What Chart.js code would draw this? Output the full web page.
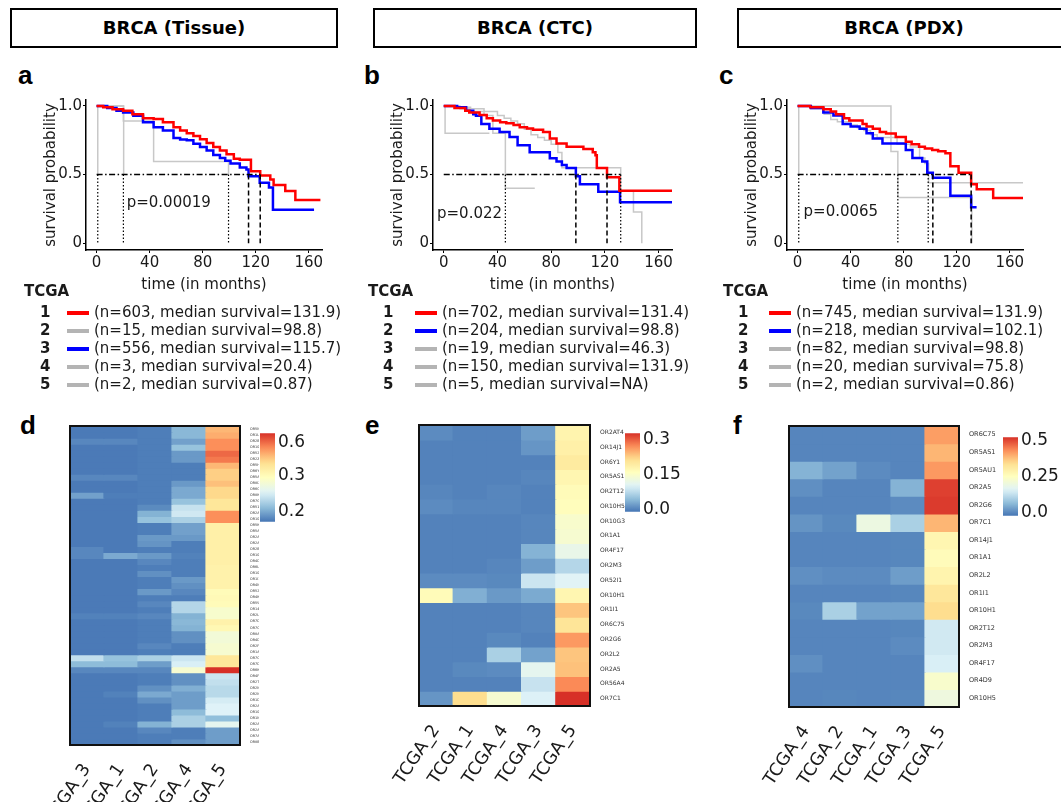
<!DOCTYPE html>
<html>
<head>
<meta charset="utf-8">
<script src="https://cdn.jsdelivr.net/npm/chart.js@4.4.1/dist/chart.umd.min.js"></script>
<style>
  body { margin: 0; width: 1061px; height: 802px; background: #fff; position: relative; overflow: hidden; font-family: 'DejaVu Sans', sans-serif; color: #1a1a1a; }
  canvas { position: absolute; }
  .header { position: absolute; top: 8px; height: 36px; border: 2px solid #000; font: bold 18px 'DejaVu Sans', sans-serif; text-align: center; line-height: 36px; color: #000; }
  .letter { position: absolute; font: bold 26px 'Liberation Sans', Arial, sans-serif; color: #000; }
  .leg { position: absolute; font-size: 15px; line-height: 18px; white-space: nowrap; }
  .leg b { font-weight: bold; }
  .sw { position: absolute; height: 4px; width: 22px; }
</style>
</head>
<body>
<div class="header" style="left:10px;width:324px">BRCA (Tissue)</div>
<div class="header" style="left:373px;width:320px">BRCA (CTC)</div>
<div class="header" style="left:737px;width:330px">BRCA (PDX)</div>

<div class="letter" style="left:18px;top:60px">a</div>
<div class="letter" style="left:364px;top:60px">b</div>
<div class="letter" style="left:719px;top:60px">c</div>
<div class="letter" style="left:20px;top:410px">d</div>
<div class="letter" style="left:365px;top:410px">e</div>
<div class="letter" style="left:733px;top:410px">f</div>

<canvas id="kmA" width="290" height="205" style="left:40px;top:90px"></canvas>
<canvas id="kmB" width="293" height="205" style="left:387px;top:90px"></canvas>
<canvas id="kmC" width="290" height="205" style="left:741px;top:90px"></canvas>

<canvas id="heatD" width="239" height="386" style="left:20px;top:416px"></canvas>
<canvas id="barD" width="60" height="115" style="left:260px;top:420px"></canvas>
<canvas id="heatE" width="260" height="387" style="left:365px;top:415px"></canvas>
<canvas id="barE" width="60" height="105" style="left:625px;top:420px"></canvas>
<canvas id="heatF" width="265" height="386" style="left:735px;top:416px"></canvas>
<canvas id="barF" width="58" height="105" style="left:1003px;top:424px"></canvas>

<script>
// ---------- Kaplan-Meier curves: [months, survival probability] step points ----------
const kmTicksX = [0, 40, 80, 120, 160];
const kmTicksY = [0, 0.5, 1];
const kmTickLabelsY = ['0', '0.5', '1.0'];
const groups = ['1', '2', '3', '4', '5'];

// a: BRCA tissue
const aGroup1 = [[0,1],[5,0.99],[12,0.975],[20,0.964],[27,0.94],[35,0.91],[43,0.905],[50,0.88],[58,0.845],[63,0.82],[68,0.80],[73,0.78],[78,0.757],[83,0.73],[88,0.70],[93,0.675],[98,0.648],[103.5,0.614],[108,0.607],[116.4,0.524],[123.4,0.493],[131,0.464],[133.5,0.424],[142.3,0.38],[149.9,0.314],[168.8,0.314]];
const aGroup2 = [[0,1],[20.2,0.89],[43,0.595],[99.5,0.5]];
const aGroup3 = [[0,1],[8,0.985],[15,0.965],[20,0.952],[27.7,0.929],[35,0.88],[43,0.845],[50,0.82],[58,0.767],[63,0.755],[68,0.75],[73,0.725],[78,0.70],[83,0.675],[88,0.643],[93,0.62],[97,0.60],[101,0.58],[108,0.552],[113,0.536],[114.6,0.488],[123,0.44],[130,0.405],[133,0.243],[164,0.243]];
const aGroup4 = [[0,1],[20.4,0.5]];
const aGroup5 = [[0,1],[0.87,0.5]];
const aMedianEnd = 123.4;
const aMedianDash = [114.6, 123.4];
const aMedianDot = [0.87, 20.2, 99.5];
const aLegend = ['(n=603, median survival=131.9)', '(n=15, median survival=98.8)', '(n=556, median survival=115.7)', '(n=3, median survival=20.4)', '(n=2, median survival=0.87)'];
const aColors = ['red', 'grey', 'blue', 'grey', 'grey'];

// b: BRCA CTC
const bGroup1 = [[0,1],[8,0.985],[16,0.964],[19,0.952],[26.7,0.933],[32,0.91],[36.6,0.893],[42,0.88],[46.6,0.874],[52,0.86],[56.6,0.845],[62,0.835],[66.5,0.826],[74,0.81],[79,0.762],[84,0.726],[91.5,0.702],[104,0.686],[111,0.662],[113,0.64],[114,0.548],[121.6,0.481],[130.8,0.381],[170,0.381]];
const bGroup2 = [[0,1],[10,0.99],[16.7,0.964],[22,0.94],[24,0.929],[28,0.869],[34,0.833],[41.6,0.81],[49,0.774],[55,0.714],[64,0.662],[79,0.619],[84,0.595],[88,0.57],[91.5,0.548],[98.4,0.488],[101.4,0.429],[115.1,0.374],[131.3,0.298],[170,0.298]];
const bGroup3 = [[0,1],[12,0.98],[20,0.96],[30,0.93],[36.6,0.8],[45.9,0.4],[67.8,0.4]];
const bGroup4 = [[0,1],[10,0.99],[20,0.98],[30,0.96],[40,0.93],[45,0.91],[50,0.89],[55,0.87],[60,0.83],[65,0.79],[70,0.77],[75,0.75],[80,0.72],[85,0.66],[88,0.55],[131.8,0.38],[141.3,0.226],[147.5,0]];
const bGroup5 = [[0,1],[1,0.8],[34,0.8]];
const bMedianEnd = 131.8;
const bMedianDash = [98.4, 121.6];
const bMedianDot = [45.9, 131.8];
const bLegend = ['(n=702, median survival=131.4)', '(n=204, median survival=98.8)', '(n=19, median survival=46.3)', '(n=150, median survival=131.9)', '(n=5, median survival=NA)'];
const bColors = ['red', 'blue', 'grey', 'grey', 'grey'];

// c: BRCA PDX
const cGroup1 = [[0,1],[9.5,0.99],[19.4,0.976],[25,0.96],[29,0.94],[35,0.91],[39,0.893],[49,0.869],[52,0.85],[56.7,0.833],[62,0.81],[66.7,0.798],[74,0.774],[81.6,0.738],[86,0.72],[91.6,0.702],[96,0.69],[101.5,0.679],[106,0.67],[111.5,0.655],[115.2,0.56],[121.4,0.512],[130.9,0.429],[135.1,0.393],[147.5,0.329],[170,0.329]];
const cGroup2 = [[0,1],[10,0.985],[19.4,0.952],[27,0.93],[34,0.869],[40,0.85],[46.8,0.833],[52,0.8],[56.7,0.762],[64,0.726],[81.6,0.679],[86.6,0.62],[94,0.595],[97.8,0.512],[102,0.476],[115.2,0.345],[130.9,0.262],[135,0.262]];
const cGroup3 = [[0,1],[10,0.98],[20,0.94],[25,0.9],[30,0.885],[40,0.86],[45,0.84],[50,0.82],[55,0.79],[60,0.77],[75,0.72],[85,0.70],[92,0.62],[96,0.58],[98.8,0.44],[170,0.44]];
const cGroup4 = [[0,1],[70.4,0.667],[75.6,0.333],[131.4,0]];
const cGroup5 = [[0,1],[0.86,0.5]];
const cMedianEnd = 130.9;
const cMedianDash = [102, 130.9];
const cMedianDot = [0.86, 75.6, 98.5];
const cLegend = ['(n=745, median survival=131.9)', '(n=218, median survival=102.1)', '(n=82, median survival=98.8)', '(n=20, median survival=75.8)', '(n=2, median survival=0.86)'];
const cColors = ['red', 'blue', 'grey', 'grey', 'grey'];

const pTexts = ['p=0.00019', 'p=0.022', 'p=0.0065'];
const pSpots = [[22.7, 0.29], [-5, 0.214], [4.5, 0.226]];

// ---------- Heatmaps ----------
const dCols = ['TCGA_3', 'TCGA_1', 'TCGA_2', 'TCGA_4', 'TCGA_5'];
const dGenes = ['OR5M4','OR1L8','OR2B11','OR10R2','OR52K2','OR2Z1','OR5H14','OR6Y1','OR5AL1','OR8I2','OR6C75','OR8K1','OR7G2','OR51M1','OR2A5','OR10G2','OR5K2','OR5AS1','OR2AG2','OR2AT4','OR2B6','OR10H1','OR4D1','OR6L8','OR10G3','OR1I1','OR4M2','OR52K1','OR4K17','OR5W2','OR14J1','OR2L2','OR7D4','OR7C2','OR8A1','OR4D9','OR2F1','OR1A1','OR7C1','OR7D2','OR6K3','OR4F17','OR2T12','OR2M3','OR2M4','OR1D2','OR2A12','OR10H5','OR1M1','OR2A4','OR2AG1','OR7A17','OR8B8'];
const dValues = [
  [0.176,0.176,0.178,0.210,0.484],[0.176,0.176,0.178,0.210,0.500],[0.183,0.183,0.178,0.197,0.548],
  [0.176,0.176,0.178,0.217,0.548],[0.176,0.176,0.178,0.193,0.604],[0.176,0.176,0.178,0.193,0.580],
  [0.176,0.176,0.178,0.178,0.484],[0.176,0.176,0.178,0.178,0.444],[0.183,0.183,0.178,0.178,0.444],
  [0.176,0.176,0.178,0.193,0.468],[0.176,0.176,0.178,0.202,0.428],[0.197,0.178,0.178,0.202,0.428],
  [0.176,0.176,0.178,0.217,0.388],[0.176,0.176,0.185,0.241,0.388],[0.176,0.176,0.207,0.246,0.548],
  [0.176,0.176,0.217,0.227,0.548],[0.176,0.176,0.178,0.197,0.348],[0.176,0.176,0.178,0.197,0.348],
  [0.176,0.176,0.193,0.193,0.348],[0.176,0.176,0.190,0.178,0.348],[0.183,0.176,0.178,0.178,0.348],
  [0.183,0.202,0.193,0.180,0.348],[0.176,0.176,0.183,0.178,0.348],[0.176,0.176,0.178,0.178,0.340],
  [0.176,0.176,0.188,0.178,0.340],[0.176,0.176,0.178,0.193,0.340],[0.176,0.176,0.178,0.188,0.340],
  [0.176,0.176,0.193,0.183,0.300],[0.176,0.176,0.178,0.178,0.308],[0.176,0.176,0.183,0.232,0.300],
  [0.176,0.176,0.178,0.232,0.285],[0.180,0.180,0.183,0.207,0.285],[0.176,0.176,0.178,0.210,0.340],
  [0.176,0.176,0.178,0.207,0.316],[0.176,0.176,0.178,0.188,0.278],[0.176,0.176,0.178,0.188,0.278],
  [0.176,0.176,0.183,0.178,0.283],[0.176,0.176,0.178,0.178,0.283],[0.239,0.217,0.227,0.244,0.388],
  [0.212,0.212,0.195,0.251,0.388],[0.183,0.183,0.183,0.283,0.684],[0.176,0.176,0.178,0.188,0.244],
  [0.176,0.176,0.178,0.188,0.239],[0.176,0.176,0.188,0.205,0.234],[0.176,0.180,0.202,0.195,0.234],
  [0.176,0.176,0.188,0.195,0.249],[0.176,0.176,0.178,0.195,0.254],[0.176,0.176,0.178,0.212,0.254],
  [0.176,0.176,0.178,0.227,0.214],[0.176,0.180,0.207,0.227,0.261],[0.176,0.176,0.183,0.178,0.195],
  [0.176,0.176,0.178,0.178,0.195],[0.176,0.176,0.178,0.188,0.195]
];
const dBreaks = [0.173, 0.2, 0.3, 0.6, 0.684];
const dBreakPos = [0, 0.11, 0.52, 0.895, 1];
const dBarTicks = [0.2, 0.3, 0.6];
const dBarLabels = ['0.2', '0.3', '0.6'];

const eCols = ['TCGA_2', 'TCGA_1', 'TCGA_4', 'TCGA_3', 'TCGA_5'];
const eGenes = ['OR2AT4','OR14J1','OR6Y1','OR5AS1','OR2T12','OR10H5','OR10G3','OR1A1','OR4F17','OR2M3','OR52I1','OR10H1','OR1I1','OR6C75','OR2G6','OR2L2','OR2A5','OR56A4','OR7C1'];
const eValues = [
  [0.007,0.0,0.0,0.020,0.178],[0.0,0.0,0.0,0.014,0.185],[0.0,0.0,0.0,0.0,0.195],
  [0.0,0.0,0.0,0.003,0.175],[0.003,0.0,0.003,0.0,0.165],[0.007,0.003,0.003,0.0,0.161],
  [0.0,0.0,0.0,0.003,0.145],[0.0,0.0,0.0,0.003,0.141],[0.0,0.0,0.0,0.037,0.118],
  [0.0,0.0,0.003,0.020,0.071],[0.007,0.007,0.005,0.087,0.104],[0.165,0.034,0.017,0.030,0.175],
  [0.0,0.0,0.0,0.003,0.232],[0.0,0.0,0.0,0.003,0.205],[0.0,0.0,0.005,0.0,0.262],
  [0.0,0.0,0.064,0.024,0.232],[0.0,0.005,0.007,0.111,0.235],[0.0,0.0,0.0,0.084,0.272],
  [0.014,0.215,0.141,0.100,0.326]
];
const eBreaks = [-0.01, 0.326];
const eBreakPos = [0, 1];
const eBarTicks = [0, 0.15, 0.3];
const eBarLabels = ['0.0', '0.15', '0.3'];

const fCols = ['TCGA_4', 'TCGA_2', 'TCGA_1', 'TCGA_3', 'TCGA_5'];
const fGenes = ['OR6C75','OR5AS1','OR5AU1','OR2A5','OR2G6','OR7C1','OR14J1','OR1A1','OR2L2','OR1I1','OR10H1','OR2T12','OR2M3','OR4F17','OR4D9','OR10H5'];
const fValues = [
  [0,0,0,0,0.416],[0,0,0,0,0.389],[0.056,0.035,0.007,0,0.421],[0.012,0,0,0.056,0.509],
  [0,0,0,0.007,0.514],[0.018,0.004,0.198,0.100,0.389],[0,0,0,0.002,0.280],[0,0,0,0.002,0.263],
  [0.012,0.007,0.007,0.029,0.285],[0,0,0,0.002,0.323],[0.004,0.100,0.035,0.035,0.345],[0,0,0,0.002,0.144],
  [0,0,0,0.007,0.144],[0.012,0,0,0,0.154],[0,0,0,0,0.231],[0,0.002,0,0.002,0.203]
];
const fBreaks = [-0.02, 0.525];
const fBreakPos = [0, 1];
const fBarTicks = [0, 0.25, 0.5];
const fBarLabels = ['0.0', '0.25', '0.5'];

// ---------- styling ----------
const lineColors = { red: '#ff0000', blue: '#0000ff', grey: '#c8c8c8' };
const swatchColors = { red: '#ff0000', blue: '#0000ff', grey: '#b4b4b4' };
const palette = ['#4575B4', '#91BFDB', '#E0F3F8', '#FFFFBF', '#FEE090', '#FC8D59', '#D73027'];
const textColor = '#1a1a1a';
const axisFont = { family: 'DejaVu Sans', size: 15 };

function hexRgb(h) {
  return [1, 3, 5].map(i => parseInt(h.substr(i, 2), 16));
}

function paletteAt(t) {
  t = Math.max(0, Math.min(1, t));
  const f = t * (palette.length - 1);
  const i = Math.min(palette.length - 2, Math.floor(f));
  const a = hexRgb(palette[i]), b = hexRgb(palette[i + 1]);
  const k = f - i;
  const c = a.map((v, j) => Math.round(v + (b[j] - v) * k));
  return `rgb(${c[0]},${c[1]},${c[2]})`;
}

function toPos(v, breaks, pos) {
  if (v <= breaks[0]) return pos[0];
  for (let i = 1; i < breaks.length; i++) {
    if (v <= breaks[i]) {
      const k = (v - breaks[i - 1]) / (breaks[i] - breaks[i - 1]);
      return pos[i - 1] + k * (pos[i] - pos[i - 1]);
    }
  }
  return pos[pos.length - 1];
}

// p-value label at data coordinates
const pLabel = {
  id: 'pLabel',
  afterDatasetsDraw(chart, args, opts) {
    const { ctx, scales: { x, y } } = chart;
    ctx.save();
    ctx.font = '15px "DejaVu Sans"';
    ctx.fillStyle = textColor;
    ctx.textBaseline = 'middle';
    ctx.fillText(opts.text, x.getPixelForValue(opts.x), y.getPixelForValue(opts.y));
    ctx.restore();
  }
};

// black frame around heatmap
const frame = {
  id: 'frame',
  afterDatasetsDraw(chart) {
    const { ctx, chartArea: a } = chart;
    ctx.save();
    ctx.strokeStyle = '#111';
    ctx.lineWidth = 2;
    ctx.strokeRect(a.left, a.top, a.right - a.left, a.bottom - a.top);
    ctx.restore();
  }
};

function kmChart(id, curves, colors, medianEnd, medianDash, medianDot, pText, pSpot) {
  // bottom-to-top drawing order: grey, blue, red, then the median guides
  const layers = [];
  const order = ['grey', 'blue', 'red'];
  order.forEach(col => {
    curves.forEach((c, i) => {
      if (colors[i] !== col) return;
      layers.push({
        data: c.map(p => ({ x: p[0], y: p[1] })),
        borderColor: lineColors[col],
        borderWidth: col === 'grey' ? 1.5 : 2.5,
        stepped: 'before'
      });
    });
  });
  layers.push({
    data: [{ x: 0, y: 0.5 }, { x: medianEnd, y: 0.5 }],
    borderColor: '#000', borderWidth: 1.5, borderDash: [6, 2.5, 1.5, 2.5]
  });
  medianDash.forEach(m => layers.push({
    data: [{ x: m, y: 0.5 }, { x: m, y: 0 }],
    borderColor: '#000', borderWidth: 1.5, borderDash: [5, 3]
  }));
  medianDot.forEach(m => layers.push({
    data: [{ x: m, y: 0.5 }, { x: m, y: 0 }],
    borderColor: '#000', borderWidth: 1.2, borderDash: [1.5, 2]
  }));
  const datasets = layers.reverse().map(d => Object.assign({ pointRadius: 0, fill: false, tension: 0 }, d));

  return new Chart(document.getElementById(id), {
    type: 'line',
    data: { datasets },
    plugins: [pLabel],
    options: {
      responsive: false,
      animation: false,
      layout: { padding: { top: 7, right: 8 } },
      plugins: {
        legend: { display: false },
        tooltip: { enabled: false },
        pLabel: { text: pText, x: pSpot[0], y: pSpot[1] }
      },
      scales: {
        x: {
          type: 'linear', min: -8, max: 170,
          afterBuildTicks: s => { s.ticks = kmTicksX.map(v => ({ value: v })); },
          afterFit: s => { s.height = 45; },
          ticks: { font: axisFont, color: textColor, padding: 1 },
          grid: { drawOnChartArea: false, tickLength: 3, color: '#000' },
          border: { color: '#000', width: 1.5 },
          title: { display: true, text: 'time (in months)', font: axisFont, color: textColor, padding: { top: 0, bottom: 1 } }
        },
        y: {
          type: 'linear', min: -0.05, max: 1.043,
          afterBuildTicks: s => { s.ticks = kmTicksY.map(v => ({ value: v })); },
          afterFit: s => { s.width = 46; },
          ticks: { font: axisFont, color: textColor, padding: 1, callback: (v, i) => kmTickLabelsY[i] },
          grid: { drawOnChartArea: false, tickLength: 3, color: '#000' },
          border: { color: '#000', width: 1.5 },
          title: { display: true, text: 'survival probability', font: axisFont, color: textColor, padding: { top: 2, bottom: 0 } }
        }
      }
    }
  });
}

function heatmap(id, cols, genes, values, breaks, breakPos, geneSize, axisWidth, axisHeight, padLeft) {
  return new Chart(document.getElementById(id), {
    type: 'bar',
    data: {
      labels: cols,
      datasets: genes.map((g, i) => ({
        label: g,
        data: cols.map(() => 1),
        backgroundColor: values[i].map(v => paletteAt(toPos(v, breaks, breakPos))),
        borderWidth: 0,
        inflateAmount: 0.6,
        barPercentage: 1,
        categoryPercentage: 1
      }))
    },
    plugins: [frame],
    options: {
      responsive: false,
      animation: false,
      layout: { padding: { left: padLeft, top: 10 } },
      plugins: { legend: { display: false }, tooltip: { enabled: false } },
      scales: {
        x: {
          stacked: true,
          afterFit: s => { s.height = axisHeight; },
          grid: { display: false },
          border: { display: false },
          ticks: { minRotation: 56, maxRotation: 56, autoSkip: false, padding: 7, color: textColor, font: { family: 'DejaVu Sans', size: 17.5 } }
        },
        y: {
          stacked: true, position: 'right', reverse: true, min: 0, max: genes.length,
          afterBuildTicks: s => { s.ticks = genes.map((g, i) => ({ value: i + 0.5 })); },
          afterFit: s => { s.width = axisWidth; },
          grid: { display: false },
          border: { display: false },
          ticks: { autoSkip: false, padding: 2, color: '#333', font: { family: 'DejaVu Sans', size: geneSize }, callback: (v, i) => genes[i] }
        }
      }
    }
  });
}

function colorBar(id, breaks, breakPos, barTicks, barLabels, padTop, padBottom, axisWidth) {
  return new Chart(document.getElementById(id), {
    type: 'bar',
    data: {
      labels: [''],
      datasets: [{
        data: [[0, 1]],
        borderWidth: 0,
        barPercentage: 1,
        categoryPercentage: 1,
        backgroundColor: c => {
          const a = c.chart.chartArea;
          if (!a) return palette[0];
          const g = c.chart.ctx.createLinearGradient(0, a.bottom, 0, a.top);
          for (let i = 0; i <= 20; i++) g.addColorStop(i / 20, paletteAt(i / 20));
          return g;
        }
      }]
    },
    options: {
      responsive: false,
      animation: false,
      layout: { padding: { top: padTop, bottom: padBottom } },
      plugins: { legend: { display: false }, tooltip: { enabled: false } },
      scales: {
        x: { display: false },
        y: {
          position: 'right', min: 0, max: 1,
          afterBuildTicks: s => { s.ticks = barTicks.map(v => ({ value: toPos(v, breaks, breakPos) })); },
          afterFit: s => { s.width = axisWidth; },
          grid: { display: false, drawTicks: false },
          border: { display: false },
          ticks: { padding: 3, color: textColor, font: { family: 'DejaVu Sans', size: 17 }, callback: (v, i) => barLabels[i] }
        }
      }
    }
  });
}

function buildLegend(left, numX, swX, textX, colors, texts) {
  const top = 282;
  const head = document.createElement('div');
  head.className = 'leg';
  head.style.left = left + 'px';
  head.style.top = top + 'px';
  head.innerHTML = '<b>TCGA</b>';
  document.body.appendChild(head);
  groups.forEach((g, i) => {
    const y = 303 + i * 18;
    const num = document.createElement('div');
    num.className = 'leg';
    num.style.left = (numX - 5) + 'px';
    num.style.top = y + 'px';
    num.innerHTML = '<b>' + g + '</b>';
    document.body.appendChild(num);
    const sw = document.createElement('div');
    sw.className = 'sw';
    sw.style.left = swX + 'px';
    sw.style.top = (y + 8) + 'px';
    sw.style.background = swatchColors[colors[i]];
    document.body.appendChild(sw);
    const t = document.createElement('div');
    t.className = 'leg';
    t.style.left = textX + 'px';
    t.style.top = y + 'px';
    t.textContent = texts[i];
    document.body.appendChild(t);
  });
}

kmChart('kmA', [aGroup1, aGroup2, aGroup3, aGroup4, aGroup5], aColors, aMedianEnd, aMedianDash, aMedianDot, pTexts[0], pSpots[0]);
kmChart('kmB', [bGroup1, bGroup2, bGroup3, bGroup4, bGroup5], bColors, bMedianEnd, bMedianDash, bMedianDot, pTexts[1], pSpots[1]);
kmChart('kmC', [cGroup1, cGroup2, cGroup3, cGroup4, cGroup5], cColors, cMedianEnd, cMedianDash, cMedianDot, pTexts[2], pSpots[2]);

buildLegend(24, 45, 67, 94, aColors, aLegend);
buildLegend(368, 388, 415, 442, bColors, bLegend);
buildLegend(723, 743, 769, 796, cColors, cLegend);

heatmap('heatD', dCols, dGenes, dValues, dBreaks, dBreakPos, 3.4, 19, 57, 50);
heatmap('heatE', eCols, eGenes, eValues, eBreaks, eBreakPos, 6, 35, 96, 54);
heatmap('heatF', fCols, fGenes, fValues, fBreaks, fBreakPos, 6.5, 41, 95, 54);

colorBar('barD', dBreaks, dBreakPos, dBarTicks, dBarLabels, 6, 7, 45);
colorBar('barE', eBreaks, eBreakPos, eBarTicks, eBarLabels, 6, 8, 45);
colorBar('barF', fBreaks, fBreakPos, fBarTicks, fBarLabels, 6, 8, 43);
</script>
</body>
</html>
